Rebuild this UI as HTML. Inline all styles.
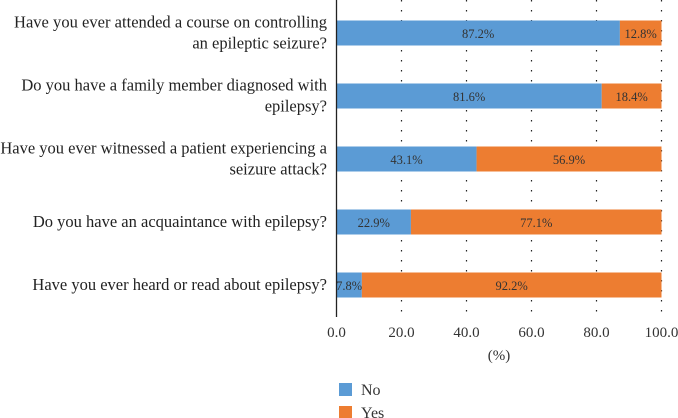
<!DOCTYPE html>
<html><head><meta charset="utf-8"><style>
body{margin:0;background:#fff;}
svg{display:block;font-family:"Liberation Serif",serif;}
</style></head><body>
<svg id="chart" width="678" height="418"></svg>
<script>
const categories=[
 ["Have you ever attended a course on controlling","an epileptic seizure?"],
 ["Do you have a family member diagnosed with","epilepsy?"],
 ["Have you ever witnessed a patient experiencing a","seizure attack?"],
 ["Do you have an acquaintance with epilepsy?"],
 ["Have you ever heard or read about epilepsy?"]
];
const noValues=[87.2,81.6,43.1,22.9,7.8];
const yesValues=[12.8,18.4,56.9,77.1,92.2];
const tickValues=[0,20,40,60,80,100];
const tickLabels=["0.0","20.0","40.0","60.0","80.0","100.0"];

const NS="http://www.w3.org/2000/svg";
const svg=document.getElementById('chart');
const x0=336.5,x1=661.5,yTop=0,yBot=317,band=63,barH=25,firstCenter=33;
const xs=v=>x0+(x1-x0)*v/100;
const yc=i=>firstCenter+band*i;
function mk(tag,attrs,parent){const e=document.createElementNS(NS,tag);for(const k in attrs)e.setAttribute(k,attrs[k]);(parent||svg).appendChild(e);return e;}

tickValues.forEach((t,i)=>{
 if(t>0){
  const g=mk('line',{x1:xs(t),x2:xs(t),y1:yTop,y2:yBot,stroke:'#222','stroke-width':1.2,'stroke-dasharray':'1.5 8.5'});
  
  
 }
 const tl=mk('text',{x:xs(t),y:337,'text-anchor':'middle','font-size':15,fill:'#333'});
 tl.textContent=tickLabels[i];
 
 
});

categories.forEach((lines,i)=>{
 const c=yc(i);
 const a=xs(0),b=xs(noValues[i]),e=xs(noValues[i]+yesValues[i]);
 const r1=mk('rect',{x:a,y:c-barH/2,width:b-a,height:barH,fill:'#5b9bd5'});
 
 
 const r2=mk('rect',{x:b,y:c-barH/2,width:e-b,height:barH,fill:'#ed7d31'});
 
 
 const t1=mk('text',{x:(a+b)/2,y:c+5,'text-anchor':'middle','font-size':12.5,fill:'#333'});
 t1.textContent=noValues[i].toFixed(1)+'%';
 
 
 const t2=mk('text',{x:(b+e)/2,y:c+5,'text-anchor':'middle','font-size':12.5,fill:'#333'});
 t2.textContent=yesValues[i].toFixed(1)+'%';
 
 
 const n=lines.length;
 lines.forEach((ln,j)=>{
  const t=mk('text',{x:327,y:c+5+(j-(n-1)/2)*21,'text-anchor':'end','font-size':16.5,fill:'#222'});
  t.textContent=ln;
  if(i===0&&j===0){t.setAttribute('textLength',313);}
  
  
 });
});

const ax=mk('line',{x1:x0,x2:x0,y1:yTop,y2:yBot,stroke:'#222','stroke-width':1.3});



const xt=mk('text',{x:499,y:360,'text-anchor':'middle','font-size':15,fill:'#333'});
xt.textContent='(%)';



[['No','#5b9bd5',383],['Yes','#ed7d31',406]].forEach(([lab,col,y])=>{
 const r=mk('rect',{x:339,y:y,width:13,height:13,fill:col});
 
 
 const t=mk('text',{x:361,y:y+12,'font-size':16,fill:'#333'});
 t.textContent=lab;
 
 
});
</script>
</body></html>
